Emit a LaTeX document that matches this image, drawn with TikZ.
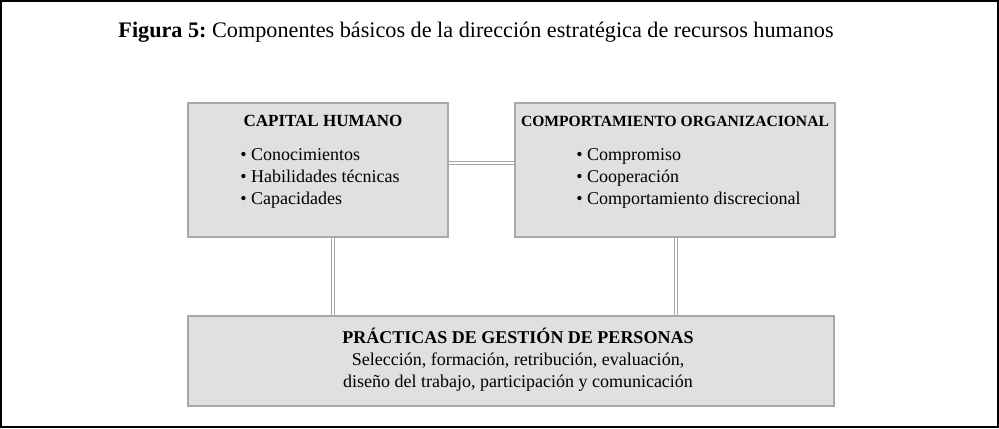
\documentclass[tikz,border=0pt]{standalone}
\usepackage{fontspec}
\setmainfont{Liberation Serif}
\usepackage{xcolor}
\usetikzlibrary{calc}
\usetikzlibrary{positioning}
\definecolor{cajagris}{HTML}{E0E0E0}
\definecolor{bordegris}{HTML}{A8A8A8}
\frenchspacing

\begin{document}
\begin{tikzpicture}[x=0.5pt,y=-0.5pt]
		\tikzset{
			caja/.style={draw=bordegris,fill=cajagris,line width=0.8pt,inner sep=0pt},
			titulo/.style={font=\bfseries\fontsize{8.5}{11}\selectfont,anchor=north},
			lista/.style={align=left,anchor=north west,font=\fontsize{9}{11}\selectfont,inner sep=0pt},
			enlace/.style={draw=bordegris,double=white,double distance=1.2pt,line width=0.6pt}
		}
		% marco
		\draw[line width=0.6pt] (1,1) rectangle (998,427);
		\useasboundingbox (0,0) rectangle (999,428);
		\node[font=\fontsize{11.1}{13}\selectfont] (tit) at (476,32) {\textbf{Figura 5:} Componentes básicos de la dirección estratégica de recursos humanos};
		
		% cajas
		\node[caja,minimum width=130pt,minimum height=67pt] (capital) at (318,170) {};
		\node[caja,minimum width=160pt,minimum height=67pt] (comport) at (675,170) {};
		\node[caja,minimum width=323pt,minimum height=45pt] (practicas) at (511,361) {};
		
		\node[titulo] (capitalT) at ($(capital.north)+(5,6)$) {CAPITAL HUMANO};
		\node[lista] (capitalL) at (240,148) {• Conocimientos\\ • Habilidades técnicas\\ • Capacidades};
		
		\node[titulo,font=\bfseries\fontsize{7.8}{11}\selectfont] (comportT) at ($(comport.north)+(0,7)$) {COMPORTAMIENTO ORGANIZACIONAL};
		\node[lista] (comportL) at (576,148) {• Compromiso\\ • Cooperación\\ • Comportamiento discrecional};
		
		\node[align=center,font=\fontsize{9}{11}\selectfont,inner sep=0pt] (practicasT) at (518,360)
			{\textbf{PRÁCTICAS DE GESTIÓN DE PERSONAS}\\ Selección, formación, retribución, evaluación,\\ diseño del trabajo, participación y comunicación};
		
		% conexiones
		\draw[enlace] (capital.east |- 0,163) -- (comport.west |- 0,163);
		\draw[enlace] (capital.south -| 333,0) -- (practicas.north -| 333,0);
		\draw[enlace] (comport.south -| 676,0) -- (practicas.north -| 676,0);
		
		\end{tikzpicture}
\end{document}
